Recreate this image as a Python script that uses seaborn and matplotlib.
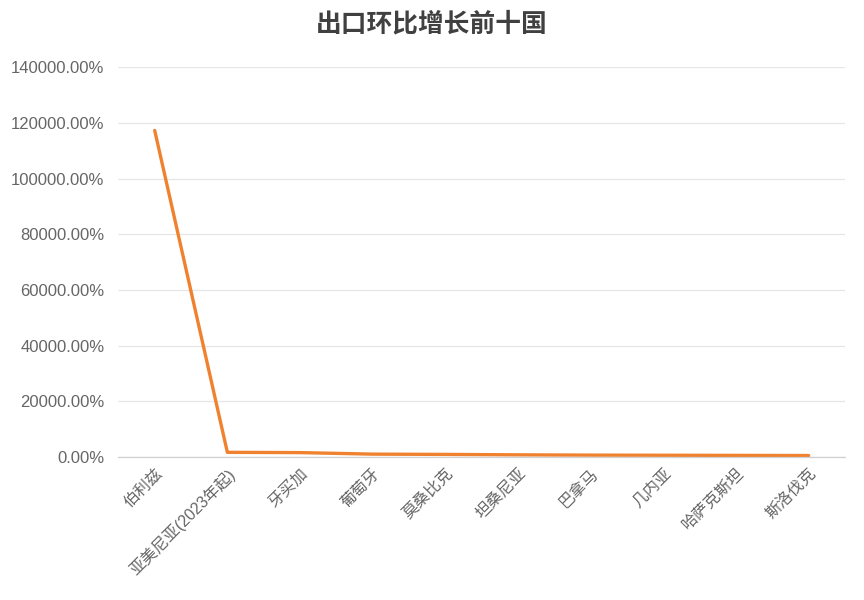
import matplotlib
matplotlib.use("Agg")
import matplotlib.pyplot as plt
import seaborn as sns
import pandas as pd
from matplotlib.ticker import FuncFormatter, MultipleLocator

countries = ["伯利兹", "亚美尼亚(2023年起)", "牙买加", "葡萄牙", "莫桑比克",
             "坦桑尼亚", "巴拿马", "几内亚", "哈萨克斯坦", "斯洛伐克"]
growth_pct = [117300, 1750, 1650, 1100, 1000, 850, 750, 700, 650, 600]

sns.set_theme(style="white")
plt.rcParams['font.family'] = ['Liberation Sans', 'Noto Sans CJK SC', 'DejaVu Sans']

df = pd.DataFrame({"country": countries, "growth": growth_pct})

fig = plt.figure(figsize=(8.64, 6), dpi=100)
ax = fig.add_axes([0.137, 0.238, 0.841, 0.650])

sns.lineplot(data=df, x="country", y="growth", sort=False, ax=ax,
             color="#F0822F", linewidth=2.4, solid_capstyle="round")

ax.set_ylim(0, 140000)
ax.set_xlim(-0.5, len(countries) - 0.5)
ax.yaxis.set_major_locator(MultipleLocator(20000))
ax.yaxis.set_major_formatter(FuncFormatter(lambda v, p: f"{v:.2f}%"))
ax.grid(axis="y", color="#e6e6e6", linewidth=0.9)
ax.set_axisbelow(True)
for s in ["top", "right", "left"]:
    ax.spines[s].set_visible(False)
ax.spines["bottom"].set_color("#d0d0d0")
ax.spines["bottom"].set_linewidth(0.9)

ax.set_xlabel("")
ax.set_ylabel("")
ax.tick_params(axis="y", colors="#666666", labelsize=12, length=0, pad=10)
ax.tick_params(axis="x", colors="#666666", labelsize=11.5, length=0, pad=6)
plt.setp(ax.get_xticklabels(), rotation=45, ha="right", rotation_mode="anchor")

fig.suptitle("出口环比增长前十国", x=0.5, y=0.982, fontsize=18.5, fontweight="bold",
             color="#404040", family=['Noto Sans CJK SC', 'DejaVu Sans'])

fig.savefig("out.png", dpi=100, facecolor="white")
